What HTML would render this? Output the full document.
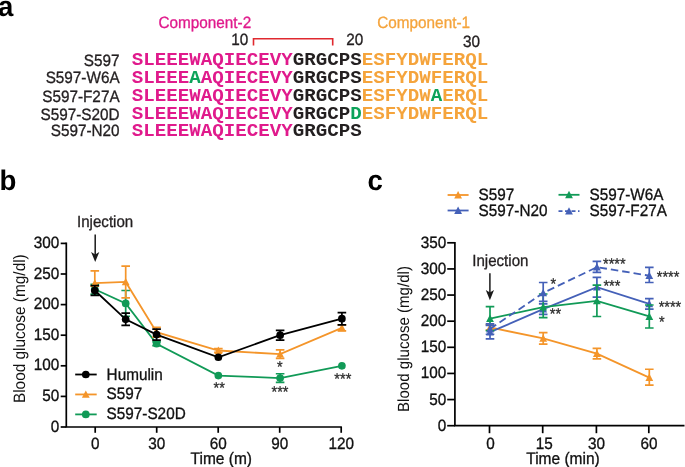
<!DOCTYPE html>
<html><head><meta charset="utf-8"><style>
html,body{margin:0;padding:0;background:#fff;width:685px;height:467px;overflow:hidden}
svg{display:block}
.soft{filter:blur(0.35px)}

</style></head><body>
<svg class="soft" width="685" height="467" viewBox="0 0 685 467">
<rect width="685" height="467" fill="#fff"/>
<text transform="translate(-1.9,15.5) scale(1,1.03)" font-size="27.6" text-anchor="start" fill="#000" font-weight="bold" font-family="Liberation Sans" text-rendering="geometricPrecision" >a</text>
<text transform="translate(158.5,27.6) scale(1,1.07)" font-size="15.3" text-anchor="start" fill="#e01a8c" font-weight="normal" font-family="Liberation Sans" text-rendering="geometricPrecision"  stroke="#e01a8c" stroke-width="0.3">Component-2</text>
<text transform="translate(377.3,27.6) scale(1,1.07)" font-size="15.3" text-anchor="start" fill="#f5a43c" font-weight="normal" font-family="Liberation Sans" text-rendering="geometricPrecision"  stroke="#f5a43c" stroke-width="0.3">Component-1</text>
<text transform="translate(231.3,45.2) scale(1,1.07)" font-size="15.3" text-anchor="start" fill="#231f20" font-weight="normal" font-family="Liberation Sans" text-rendering="geometricPrecision"  stroke="#231f20" stroke-width="0.3">10</text>
<text transform="translate(346.2,45.2) scale(1,1.07)" font-size="15.3" text-anchor="start" fill="#231f20" font-weight="normal" font-family="Liberation Sans" text-rendering="geometricPrecision"  stroke="#231f20" stroke-width="0.3">20</text>
<text transform="translate(463.0,46.6) scale(1,1.07)" font-size="15.3" text-anchor="start" fill="#231f20" font-weight="normal" font-family="Liberation Sans" text-rendering="geometricPrecision"  stroke="#231f20" stroke-width="0.3">30</text>
<path d="M253.5 45.5V38.8H332.7V45.5" fill="none" stroke="#e0292f" stroke-width="1.6"/>
<text transform="translate(119.6,65.6) scale(1,1.07)" font-size="15.3" text-anchor="end" fill="#231f20" font-weight="normal" font-family="Liberation Sans" text-rendering="geometricPrecision"  stroke="#231f20" stroke-width="0.3">S597</text>
<text x="131.75" y="64.6" font-size="19.17" font-family="Liberation Mono" font-weight="bold" textLength="356.5" lengthAdjust="spacing"><tspan fill="#e01a8c">SLEEEWAQIECEVY</tspan><tspan fill="#231f20">GRGCPS</tspan><tspan fill="#f5a43c">ESFYDWFERQL</tspan></text>
<text transform="translate(119.6,83.4) scale(1,1.07)" font-size="15.3" text-anchor="end" fill="#231f20" font-weight="normal" font-family="Liberation Sans" text-rendering="geometricPrecision"  stroke="#231f20" stroke-width="0.3">S597-W6A</text>
<text x="131.75" y="82.5" font-size="19.17" font-family="Liberation Mono" font-weight="bold" textLength="356.5" lengthAdjust="spacing"><tspan fill="#e01a8c">SLEEE</tspan><tspan fill="#0ca35a">A</tspan><tspan fill="#e01a8c">AQIECEVY</tspan><tspan fill="#231f20">GRGCPS</tspan><tspan fill="#f5a43c">ESFYDWFERQL</tspan></text>
<text transform="translate(119.6,101.5) scale(1,1.07)" font-size="15.3" text-anchor="end" fill="#231f20" font-weight="normal" font-family="Liberation Sans" text-rendering="geometricPrecision"  stroke="#231f20" stroke-width="0.3">S597-F27A</text>
<text x="131.75" y="100.8" font-size="19.17" font-family="Liberation Mono" font-weight="bold" textLength="356.5" lengthAdjust="spacing"><tspan fill="#e01a8c">SLEEEWAQIECEVY</tspan><tspan fill="#231f20">GRGCPS</tspan><tspan fill="#f5a43c">ESFYDW</tspan><tspan fill="#0ca35a">A</tspan><tspan fill="#f5a43c">ERQL</tspan></text>
<text transform="translate(119.6,119.6) scale(1,1.07)" font-size="15.3" text-anchor="end" fill="#231f20" font-weight="normal" font-family="Liberation Sans" text-rendering="geometricPrecision"  stroke="#231f20" stroke-width="0.3">S597-S20D</text>
<text x="131.75" y="118.7" font-size="19.17" font-family="Liberation Mono" font-weight="bold" textLength="356.5" lengthAdjust="spacing"><tspan fill="#e01a8c">SLEEEWAQIECEVY</tspan><tspan fill="#231f20">GRGCP</tspan><tspan fill="#0ca35a">D</tspan><tspan fill="#f5a43c">ESFYDWFERQL</tspan></text>
<text transform="translate(119.6,136.1) scale(1,1.07)" font-size="15.3" text-anchor="end" fill="#231f20" font-weight="normal" font-family="Liberation Sans" text-rendering="geometricPrecision"  stroke="#231f20" stroke-width="0.3">S597-N20</text>
<text x="131.75" y="136.1" font-size="19.17" font-family="Liberation Mono" font-weight="bold" textLength="230.0" lengthAdjust="spacing"><tspan fill="#e01a8c">SLEEEWAQIECEVY</tspan><tspan fill="#231f20">GRGCPS</tspan></text>
<text transform="translate(-0.5,189.9) scale(1,1.03)" font-size="27.6" text-anchor="start" fill="#000" font-weight="bold" font-family="Liberation Sans" text-rendering="geometricPrecision" >b</text>
<text transform="translate(77.0,227.1) scale(1,1.07)" font-size="15.1" text-anchor="start" fill="#231f20" font-weight="normal" font-family="Liberation Sans" text-rendering="geometricPrecision"  stroke="#231f20" stroke-width="0.3">Injection</text>
<path d="M95.2 234.6V256.1" stroke="#1a1a1a" stroke-width="1.5"/>
<path d="M91.10000000000001 251.90000000000003L95.2 254.50000000000003L99.3 251.90000000000003L95.2 262.1Z" fill="#1a1a1a"/>
<path d="M66.3 242.60V427.00H341.9" stroke="#000" stroke-width="1.7" fill="none"/>
<path d="M60.7 427.00H66.3" stroke="#000" stroke-width="1.7"/>
<text transform="translate(59.2,431.6) scale(1,1.07)" font-size="15.3" text-anchor="end" fill="#111" font-weight="normal" font-family="Liberation Sans" text-rendering="geometricPrecision"  stroke="#111" stroke-width="0.3">0</text>
<path d="M60.7 396.40H66.3" stroke="#000" stroke-width="1.7"/>
<text transform="translate(59.2,401.0) scale(1,1.07)" font-size="15.3" text-anchor="end" fill="#111" font-weight="normal" font-family="Liberation Sans" text-rendering="geometricPrecision"  stroke="#111" stroke-width="0.3">50</text>
<path d="M60.7 365.80H66.3" stroke="#000" stroke-width="1.7"/>
<text transform="translate(59.2,370.40000000000003) scale(1,1.07)" font-size="15.3" text-anchor="end" fill="#111" font-weight="normal" font-family="Liberation Sans" text-rendering="geometricPrecision"  stroke="#111" stroke-width="0.3">100</text>
<path d="M60.7 335.20H66.3" stroke="#000" stroke-width="1.7"/>
<text transform="translate(59.2,339.8) scale(1,1.07)" font-size="15.3" text-anchor="end" fill="#111" font-weight="normal" font-family="Liberation Sans" text-rendering="geometricPrecision"  stroke="#111" stroke-width="0.3">150</text>
<path d="M60.7 304.60H66.3" stroke="#000" stroke-width="1.7"/>
<text transform="translate(59.2,309.20000000000005) scale(1,1.07)" font-size="15.3" text-anchor="end" fill="#111" font-weight="normal" font-family="Liberation Sans" text-rendering="geometricPrecision"  stroke="#111" stroke-width="0.3">200</text>
<path d="M60.7 274.00H66.3" stroke="#000" stroke-width="1.7"/>
<text transform="translate(59.2,278.6) scale(1,1.07)" font-size="15.3" text-anchor="end" fill="#111" font-weight="normal" font-family="Liberation Sans" text-rendering="geometricPrecision"  stroke="#111" stroke-width="0.3">250</text>
<path d="M60.7 243.40H66.3" stroke="#000" stroke-width="1.7"/>
<text transform="translate(59.2,248.0) scale(1,1.07)" font-size="15.3" text-anchor="end" fill="#111" font-weight="normal" font-family="Liberation Sans" text-rendering="geometricPrecision"  stroke="#111" stroke-width="0.3">300</text>
<path d="M95.20 427.0V432.8" stroke="#000" stroke-width="1.7"/>
<text transform="translate(95.2,448.8) scale(1,1.07)" font-size="15.3" text-anchor="middle" fill="#111" font-weight="normal" font-family="Liberation Sans" text-rendering="geometricPrecision"  stroke="#111" stroke-width="0.3">0</text>
<path d="M156.70 427.0V432.8" stroke="#000" stroke-width="1.7"/>
<text transform="translate(156.7,448.8) scale(1,1.07)" font-size="15.3" text-anchor="middle" fill="#111" font-weight="normal" font-family="Liberation Sans" text-rendering="geometricPrecision"  stroke="#111" stroke-width="0.3">30</text>
<path d="M218.20 427.0V432.8" stroke="#000" stroke-width="1.7"/>
<text transform="translate(218.2,448.8) scale(1,1.07)" font-size="15.3" text-anchor="middle" fill="#111" font-weight="normal" font-family="Liberation Sans" text-rendering="geometricPrecision"  stroke="#111" stroke-width="0.3">60</text>
<path d="M279.70 427.0V432.8" stroke="#000" stroke-width="1.7"/>
<text transform="translate(279.7,448.8) scale(1,1.07)" font-size="15.3" text-anchor="middle" fill="#111" font-weight="normal" font-family="Liberation Sans" text-rendering="geometricPrecision"  stroke="#111" stroke-width="0.3">90</text>
<path d="M341.20 427.0V432.8" stroke="#000" stroke-width="1.7"/>
<text transform="translate(341.2,448.8) scale(1,1.07)" font-size="15.3" text-anchor="middle" fill="#111" font-weight="normal" font-family="Liberation Sans" text-rendering="geometricPrecision"  stroke="#111" stroke-width="0.3">120</text>
<text transform="translate(221.3,464.3) scale(1,1.07)" font-size="15.5" text-anchor="middle" fill="#111" font-weight="normal" font-family="Liberation Sans" text-rendering="geometricPrecision"  stroke="#111" stroke-width="0.3">Time (m)</text>
<text transform="translate(24.6,403.1) rotate(-90) scale(1,1.07)" font-size="15.4" text-anchor="start" font-family="Liberation Sans" text-rendering="geometricPrecision" fill="#111">Blood glucose (mg/dl)</text>
<path d="M94.80 289.30L125.69 303.38L156.57 343.77L218.35 375.59L280.12 378.04L341.90 365.80" stroke="#119a57" stroke-width="1.8" fill="none"/>
<path d="M94.80 284.40V294.20M90.50 284.40H99.10M90.50 294.20H99.10" stroke="#119a57" stroke-width="1.7" fill="none"/>
<path d="M125.69 290.52V316.23M121.39 290.52H129.99M121.39 316.23H129.99" stroke="#119a57" stroke-width="1.7" fill="none"/>
<path d="M156.57 341.93V345.60M152.27 341.93H160.88M152.27 345.60H160.88" stroke="#119a57" stroke-width="1.7" fill="none"/>
<path d="M280.12 373.76V382.32M275.82 373.76H284.42M275.82 382.32H284.42" stroke="#119a57" stroke-width="1.7" fill="none"/>
<circle cx="94.80" cy="289.30" r="3.85" fill="#119a57"/>
<circle cx="125.69" cy="303.38" r="3.85" fill="#119a57"/>
<circle cx="156.57" cy="343.77" r="3.85" fill="#119a57"/>
<circle cx="218.35" cy="375.59" r="3.85" fill="#119a57"/>
<circle cx="280.12" cy="378.04" r="3.85" fill="#119a57"/>
<circle cx="341.90" cy="365.80" r="3.85" fill="#119a57"/>
<path d="M94.80 283.18L125.69 281.96L156.57 332.14L218.35 350.50L280.12 354.17L341.90 327.86" stroke="#f4952a" stroke-width="1.8" fill="none"/>
<path d="M94.80 270.94V286.24M90.50 270.94H99.10M90.50 286.24H99.10" stroke="#f4952a" stroke-width="1.7" fill="none"/>
<path d="M125.69 266.04V297.87M121.39 266.04H129.99M121.39 297.87H129.99" stroke="#f4952a" stroke-width="1.7" fill="none"/>
<path d="M156.57 327.24V337.04M152.27 327.24H160.88M152.27 337.04H160.88" stroke="#f4952a" stroke-width="1.7" fill="none"/>
<path d="M218.35 348.66V352.34M214.05 348.66H222.65M214.05 352.34H222.65" stroke="#f4952a" stroke-width="1.7" fill="none"/>
<path d="M280.12 349.89V358.46M275.82 349.89H284.42M275.82 358.46H284.42" stroke="#f4952a" stroke-width="1.7" fill="none"/>
<path d="M341.90 324.80V330.92M337.60 324.80H346.20M337.60 330.92H346.20" stroke="#f4952a" stroke-width="1.7" fill="none"/>
<path d="M94.80 279.18L98.70 286.58L90.90 286.58Z" fill="#f4952a"/>
<path d="M125.69 277.96L129.59 285.36L121.79 285.36Z" fill="#f4952a"/>
<path d="M156.57 328.14L160.47 335.54L152.67 335.54Z" fill="#f4952a"/>
<path d="M218.35 346.50L222.25 353.90L214.45 353.90Z" fill="#f4952a"/>
<path d="M280.12 350.17L284.02 357.57L276.22 357.57Z" fill="#f4952a"/>
<path d="M341.90 323.86L345.80 331.26L338.00 331.26Z" fill="#f4952a"/>
<path d="M94.80 290.52L125.69 319.29L156.57 334.59L218.35 357.23L280.12 335.20L341.90 318.68" stroke="#000000" stroke-width="1.8" fill="none"/>
<path d="M94.80 285.63V295.42M90.50 285.63H99.10M90.50 295.42H99.10" stroke="#000000" stroke-width="1.7" fill="none"/>
<path d="M125.69 313.17V325.41M121.39 313.17H129.99M121.39 325.41H129.99" stroke="#000000" stroke-width="1.7" fill="none"/>
<path d="M156.57 329.08V340.10M152.27 329.08H160.88M152.27 340.10H160.88" stroke="#000000" stroke-width="1.7" fill="none"/>
<path d="M280.12 330.30V340.10M275.82 330.30H284.42M275.82 340.10H284.42" stroke="#000000" stroke-width="1.7" fill="none"/>
<path d="M341.90 312.56V324.80M337.60 312.56H346.20M337.60 324.80H346.20" stroke="#000000" stroke-width="1.7" fill="none"/>
<circle cx="94.80" cy="290.52" r="3.85" fill="#000000"/>
<circle cx="125.69" cy="319.29" r="3.85" fill="#000000"/>
<circle cx="156.57" cy="334.59" r="3.85" fill="#000000"/>
<circle cx="218.35" cy="357.23" r="3.85" fill="#000000"/>
<circle cx="280.12" cy="335.20" r="3.85" fill="#000000"/>
<circle cx="341.90" cy="318.68" r="3.85" fill="#000000"/>
<text transform="translate(213.57,393.14) scale(1,1.07)" font-size="14.5" text-anchor="start" fill="#2a2a2a" font-weight="normal" font-family="Liberation Sans" text-rendering="geometricPrecision" stroke="#2a2a2a" stroke-width="0.25">**</text>
<text transform="translate(277.07,371.64) scale(1,1.07)" font-size="14.5" text-anchor="start" fill="#2a2a2a" font-weight="normal" font-family="Liberation Sans" text-rendering="geometricPrecision" stroke="#2a2a2a" stroke-width="0.25">*</text>
<text transform="translate(271.57,396.84) scale(1,1.07)" font-size="14.5" text-anchor="start" fill="#2a2a2a" font-weight="normal" font-family="Liberation Sans" text-rendering="geometricPrecision" stroke="#2a2a2a" stroke-width="0.25">***</text>
<text transform="translate(334.37,384.34) scale(1,1.07)" font-size="14.5" text-anchor="start" fill="#2a2a2a" font-weight="normal" font-family="Liberation Sans" text-rendering="geometricPrecision" stroke="#2a2a2a" stroke-width="0.25">***</text>
<path d="M75.2 374.5H96.7" stroke="#000000" stroke-width="1.8"/>
<circle cx="85.80" cy="374.50" r="3.85" fill="#000000"/>
<text transform="translate(106.6,379.5) scale(1,1.07)" font-size="15.3" text-anchor="start" fill="#111" font-weight="normal" font-family="Liberation Sans" text-rendering="geometricPrecision"  stroke="#111" stroke-width="0.3">Humulin</text>
<path d="M75.2 394.45H96.7" stroke="#f4952a" stroke-width="1.8"/>
<path d="M85.80 390.45L89.70 397.85L81.90 397.85Z" fill="#f4952a"/>
<text transform="translate(106.6,399.45) scale(1,1.07)" font-size="15.3" text-anchor="start" fill="#111" font-weight="normal" font-family="Liberation Sans" text-rendering="geometricPrecision"  stroke="#111" stroke-width="0.3">S597</text>
<path d="M75.2 414.4H96.7" stroke="#119a57" stroke-width="1.8"/>
<circle cx="85.80" cy="414.40" r="3.85" fill="#119a57"/>
<text transform="translate(106.6,419.4) scale(1,1.07)" font-size="15.3" text-anchor="start" fill="#111" font-weight="normal" font-family="Liberation Sans" text-rendering="geometricPrecision"  stroke="#111" stroke-width="0.3">S597-S20D</text>
<text transform="translate(367.4,190.1) scale(1,1.03)" font-size="27.6" text-anchor="start" fill="#000" font-weight="bold" font-family="Liberation Sans" text-rendering="geometricPrecision" >c</text>
<path d="M454.9 242.00V425.7H684.5" stroke="#000" stroke-width="1.7" fill="none"/>
<path d="M447.2 425.70H454.9" stroke="#000" stroke-width="1.7"/>
<text transform="translate(446.3,430.7) scale(1,1.07)" font-size="15.3" text-anchor="end" fill="#111" font-weight="normal" font-family="Liberation Sans" text-rendering="geometricPrecision"  stroke="#111" stroke-width="0.3">0</text>
<path d="M447.2 399.57H454.9" stroke="#000" stroke-width="1.7"/>
<text transform="translate(446.3,404.57142857142856) scale(1,1.07)" font-size="15.3" text-anchor="end" fill="#111" font-weight="normal" font-family="Liberation Sans" text-rendering="geometricPrecision"  stroke="#111" stroke-width="0.3">50</text>
<path d="M447.2 373.44H454.9" stroke="#000" stroke-width="1.7"/>
<text transform="translate(446.3,378.4428571428571) scale(1,1.07)" font-size="15.3" text-anchor="end" fill="#111" font-weight="normal" font-family="Liberation Sans" text-rendering="geometricPrecision"  stroke="#111" stroke-width="0.3">100</text>
<path d="M447.2 347.31H454.9" stroke="#000" stroke-width="1.7"/>
<text transform="translate(446.3,352.3142857142857) scale(1,1.07)" font-size="15.3" text-anchor="end" fill="#111" font-weight="normal" font-family="Liberation Sans" text-rendering="geometricPrecision"  stroke="#111" stroke-width="0.3">150</text>
<path d="M447.2 321.19H454.9" stroke="#000" stroke-width="1.7"/>
<text transform="translate(446.3,326.1857142857143) scale(1,1.07)" font-size="15.3" text-anchor="end" fill="#111" font-weight="normal" font-family="Liberation Sans" text-rendering="geometricPrecision"  stroke="#111" stroke-width="0.3">200</text>
<path d="M447.2 295.06H454.9" stroke="#000" stroke-width="1.7"/>
<text transform="translate(446.3,300.0571428571429) scale(1,1.07)" font-size="15.3" text-anchor="end" fill="#111" font-weight="normal" font-family="Liberation Sans" text-rendering="geometricPrecision"  stroke="#111" stroke-width="0.3">250</text>
<path d="M447.2 268.93H454.9" stroke="#000" stroke-width="1.7"/>
<text transform="translate(446.3,273.92857142857144) scale(1,1.07)" font-size="15.3" text-anchor="end" fill="#111" font-weight="normal" font-family="Liberation Sans" text-rendering="geometricPrecision"  stroke="#111" stroke-width="0.3">300</text>
<path d="M447.2 242.80H454.9" stroke="#000" stroke-width="1.7"/>
<text transform="translate(446.3,247.80000000000004) scale(1,1.07)" font-size="15.3" text-anchor="end" fill="#111" font-weight="normal" font-family="Liberation Sans" text-rendering="geometricPrecision"  stroke="#111" stroke-width="0.3">350</text>
<path d="M489.50 425.7V433.2" stroke="#000" stroke-width="1.7"/>
<text transform="translate(490.6,448.6) scale(1,1.07)" font-size="15.3" text-anchor="middle" fill="#111" font-weight="normal" font-family="Liberation Sans" text-rendering="geometricPrecision"  stroke="#111" stroke-width="0.3">0</text>
<path d="M542.70 425.7V433.2" stroke="#000" stroke-width="1.7"/>
<text transform="translate(544.3000000000001,448.6) scale(1,1.07)" font-size="15.3" text-anchor="middle" fill="#111" font-weight="normal" font-family="Liberation Sans" text-rendering="geometricPrecision"  stroke="#111" stroke-width="0.3">15</text>
<path d="M596.40 425.7V433.2" stroke="#000" stroke-width="1.7"/>
<text transform="translate(596.6,448.6) scale(1,1.07)" font-size="15.3" text-anchor="middle" fill="#111" font-weight="normal" font-family="Liberation Sans" text-rendering="geometricPrecision"  stroke="#111" stroke-width="0.3">30</text>
<path d="M648.80 425.7V433.2" stroke="#000" stroke-width="1.7"/>
<text transform="translate(649.0999999999999,448.6) scale(1,1.07)" font-size="15.3" text-anchor="middle" fill="#111" font-weight="normal" font-family="Liberation Sans" text-rendering="geometricPrecision"  stroke="#111" stroke-width="0.3">60</text>
<text transform="translate(563.0,464.2) scale(1,1.07)" font-size="15.5" text-anchor="middle" fill="#111" font-weight="normal" font-family="Liberation Sans" text-rendering="geometricPrecision"  stroke="#111" stroke-width="0.3">Time (min)</text>
<text transform="translate(408.8,412.0) rotate(-90) scale(1,1.07)" font-size="15.1" text-anchor="start" font-family="Liberation Sans" text-rendering="geometricPrecision" fill="#111">Blood glucose (mg/dl)</text>
<text transform="translate(472.2,265.9) scale(1,1.07)" font-size="15.1" text-anchor="start" fill="#231f20" font-weight="normal" font-family="Liberation Sans" text-rendering="geometricPrecision"  stroke="#231f20" stroke-width="0.3">Injection</text>
<path d="M489.9 273.2V294.2" stroke="#1a1a1a" stroke-width="1.5"/>
<path d="M485.79999999999995 290.0L489.9 292.59999999999997L494.0 290.0L489.9 300.2Z" fill="#1a1a1a"/>
<path d="M490.00 327.46L543.20 338.43L596.90 353.59L649.30 377.62" stroke="#f4952a" stroke-width="1.8" fill="none"/>
<path d="M490.00 324.84V330.07M485.70 324.84H494.30M485.70 330.07H494.30" stroke="#f4952a" stroke-width="1.7" fill="none"/>
<path d="M543.20 332.68V344.18M538.90 332.68H547.50M538.90 344.18H547.50" stroke="#f4952a" stroke-width="1.7" fill="none"/>
<path d="M596.90 348.36V358.81M592.60 348.36H601.20M592.60 358.81H601.20" stroke="#f4952a" stroke-width="1.7" fill="none"/>
<path d="M649.30 369.26V385.20M645.00 369.26H653.60M645.00 385.20H653.60" stroke="#f4952a" stroke-width="1.7" fill="none"/>
<path d="M490.00 323.46L493.90 330.86L486.10 330.86Z" fill="#f4952a"/>
<path d="M543.20 334.43L547.10 341.83L539.30 341.83Z" fill="#f4952a"/>
<path d="M596.90 349.59L600.80 356.99L593.00 356.99Z" fill="#f4952a"/>
<path d="M649.30 373.62L653.20 381.02L645.40 381.02Z" fill="#f4952a"/>
<path d="M490.00 332.16L543.20 309.17L596.90 287.22L649.30 303.94" stroke="#4460b8" stroke-width="1.8" fill="none"/>
<path d="M490.00 325.37V338.95M485.70 325.37H494.30M485.70 338.95H494.30" stroke="#4460b8" stroke-width="1.7" fill="none"/>
<path d="M543.20 303.94V314.39M538.90 303.94H547.50M538.90 314.39H547.50" stroke="#4460b8" stroke-width="1.7" fill="none"/>
<path d="M596.90 277.29V297.15M592.60 277.29H601.20M592.60 297.15H601.20" stroke="#4460b8" stroke-width="1.7" fill="none"/>
<path d="M649.30 298.72V309.17M645.00 298.72H653.60M645.00 309.17H653.60" stroke="#4460b8" stroke-width="1.7" fill="none"/>
<path d="M490.00 328.16L493.90 335.56L486.10 335.56Z" fill="#4460b8"/>
<path d="M543.20 305.17L547.10 312.57L539.30 312.57Z" fill="#4460b8"/>
<path d="M596.90 283.22L600.80 290.62L593.00 290.62Z" fill="#4460b8"/>
<path d="M649.30 299.94L653.20 307.34L645.40 307.34Z" fill="#4460b8"/>
<path d="M490.00 318.57L543.20 307.08L596.90 300.81L649.30 316.48" stroke="#119a57" stroke-width="1.8" fill="none"/>
<path d="M490.00 306.55V330.59M485.70 306.55H494.30M485.70 330.59H494.30" stroke="#119a57" stroke-width="1.7" fill="none"/>
<path d="M543.20 294.01V317.53M538.90 294.01H547.50M538.90 317.53H547.50" stroke="#119a57" stroke-width="1.7" fill="none"/>
<path d="M596.90 285.13V316.48M592.60 285.13H601.20M592.60 316.48H601.20" stroke="#119a57" stroke-width="1.7" fill="none"/>
<path d="M649.30 304.99V327.98M645.00 304.99H653.60M645.00 327.98H653.60" stroke="#119a57" stroke-width="1.7" fill="none"/>
<path d="M490.00 314.57L493.90 321.97L486.10 321.97Z" fill="#119a57"/>
<path d="M543.20 303.08L547.10 310.48L539.30 310.48Z" fill="#119a57"/>
<path d="M596.90 296.81L600.80 304.21L593.00 304.21Z" fill="#119a57"/>
<path d="M649.30 312.48L653.20 319.88L645.40 319.88Z" fill="#119a57"/>
<path d="M490.00 329.02L543.20 292.97L596.90 267.10L649.30 275.72" stroke="#4460b8" stroke-width="1.8" fill="none" stroke-dasharray="7.5 4"/>
<path d="M490.00 323.80V334.25M485.70 323.80H494.30M485.70 334.25H494.30" stroke="#4460b8" stroke-width="1.7" fill="none"/>
<path d="M543.20 282.52V301.33M538.90 282.52H547.50M538.90 301.33H547.50" stroke="#4460b8" stroke-width="1.7" fill="none"/>
<path d="M596.90 261.35V272.33M592.60 261.35H601.20M592.60 272.33H601.20" stroke="#4460b8" stroke-width="1.7" fill="none"/>
<path d="M649.30 267.36V282.52M645.00 267.36H653.60M645.00 282.52H653.60" stroke="#4460b8" stroke-width="1.7" fill="none"/>
<path d="M490.00 325.02L493.90 332.42L486.10 332.42Z" fill="#4460b8"/>
<path d="M543.20 288.97L547.10 296.37L539.30 296.37Z" fill="#4460b8"/>
<path d="M596.90 263.10L600.80 270.50L593.00 270.50Z" fill="#4460b8"/>
<path d="M649.30 271.72L653.20 279.12L645.40 279.12Z" fill="#4460b8"/>
<text transform="translate(550.57,288.84) scale(1,1.07)" font-size="14.5" text-anchor="start" fill="#2a2a2a" font-weight="normal" font-family="Liberation Sans" text-rendering="geometricPrecision" stroke="#2a2a2a" stroke-width="0.25">*</text>
<text transform="translate(549.77,319.44) scale(1,1.07)" font-size="14.5" text-anchor="start" fill="#2a2a2a" font-weight="normal" font-family="Liberation Sans" text-rendering="geometricPrecision" stroke="#2a2a2a" stroke-width="0.25">**</text>
<text transform="translate(603.07,269.14) scale(1,1.07)" font-size="14.5" text-anchor="start" fill="#2a2a2a" font-weight="normal" font-family="Liberation Sans" text-rendering="geometricPrecision" stroke="#2a2a2a" stroke-width="0.25">****</text>
<text transform="translate(603.47,290.94) scale(1,1.07)" font-size="14.5" text-anchor="start" fill="#2a2a2a" font-weight="normal" font-family="Liberation Sans" text-rendering="geometricPrecision" stroke="#2a2a2a" stroke-width="0.25">***</text>
<text transform="translate(656.77,281.64) scale(1,1.07)" font-size="14.5" text-anchor="start" fill="#2a2a2a" font-weight="normal" font-family="Liberation Sans" text-rendering="geometricPrecision" stroke="#2a2a2a" stroke-width="0.25">****</text>
<text transform="translate(658.67,311.64) scale(1,1.07)" font-size="14.5" text-anchor="start" fill="#2a2a2a" font-weight="normal" font-family="Liberation Sans" text-rendering="geometricPrecision" stroke="#2a2a2a" stroke-width="0.25">****</text>
<text transform="translate(658.97,326.94) scale(1,1.07)" font-size="14.5" text-anchor="start" fill="#2a2a2a" font-weight="normal" font-family="Liberation Sans" text-rendering="geometricPrecision" stroke="#2a2a2a" stroke-width="0.25">*</text>
<path d="M447.6 195H468.6" stroke="#f4952a" stroke-width="1.8"/>
<path d="M458.10 191.00L462.00 198.40L454.20 198.40Z" fill="#f4952a"/>
<text transform="translate(478.6,200.2) scale(1,1.07)" font-size="15.3" text-anchor="start" fill="#111" font-weight="normal" font-family="Liberation Sans" text-rendering="geometricPrecision"  stroke="#111" stroke-width="0.3">S597</text>
<path d="M447.6 210.5H468.6" stroke="#4460b8" stroke-width="1.8"/>
<path d="M458.10 206.50L462.00 213.90L454.20 213.90Z" fill="#4460b8"/>
<text transform="translate(478.6,215.7) scale(1,1.07)" font-size="15.3" text-anchor="start" fill="#111" font-weight="normal" font-family="Liberation Sans" text-rendering="geometricPrecision"  stroke="#111" stroke-width="0.3">S597-N20</text>
<path d="M558.5 194.8H579.5" stroke="#119a57" stroke-width="1.8"/>
<path d="M569.00 190.80L572.90 198.20L565.10 198.20Z" fill="#119a57"/>
<text transform="translate(589.5,200.0) scale(1,1.07)" font-size="15.3" text-anchor="start" fill="#111" font-weight="normal" font-family="Liberation Sans" text-rendering="geometricPrecision"  stroke="#111" stroke-width="0.3">S597-W6A</text>
<path d="M558.5 211.2H579.5" stroke="#4460b8" stroke-width="1.8" stroke-dasharray="4 2.5"/>
<path d="M569.00 207.20L572.90 214.60L565.10 214.60Z" fill="#4460b8"/>
<text transform="translate(589.5,216.39999999999998) scale(1,1.07)" font-size="15.3" text-anchor="start" fill="#111" font-weight="normal" font-family="Liberation Sans" text-rendering="geometricPrecision"  stroke="#111" stroke-width="0.3">S597-F27A</text>
</svg>
</body></html>
